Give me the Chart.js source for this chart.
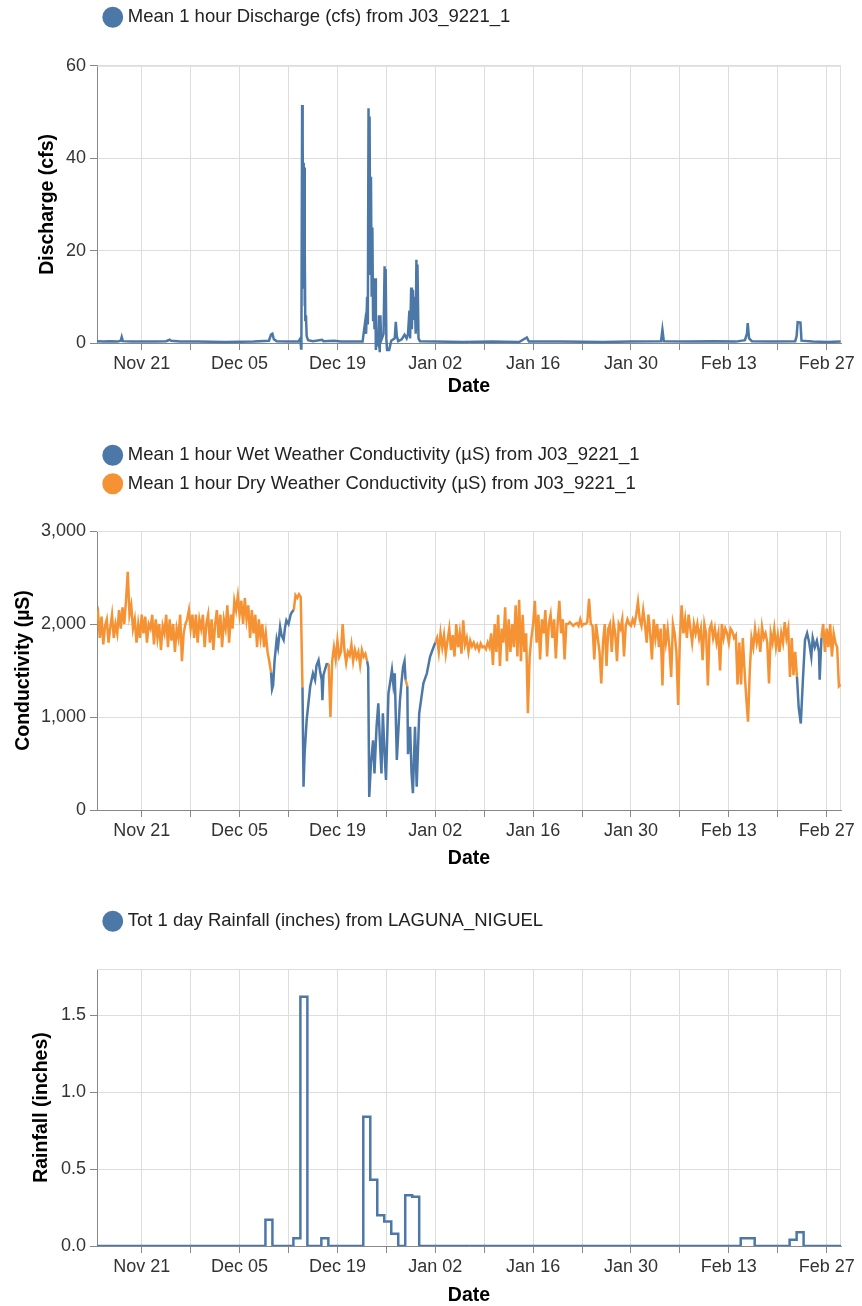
<!DOCTYPE html>
<html>
<head>
<meta charset="utf-8">
<title>J03_9221_1 discharge, conductivity and rainfall</title>
<script src="https://cdn.jsdelivr.net/npm/chart.js@4.4.1/dist/chart.umd.min.js"></script>
<style>
  html, body { margin: 0; padding: 0; background: #fff; overflow: hidden; }
  body { position: relative; width: 862px; height: 1306px; }
  canvas { position: absolute; left: 0; }
  #dischargeChart { top: -2px; }
  #conductivityChart { top: 436px; }
  #rainfallChart { top: 902px; }
</style>
</head>
<body>
<canvas id="dischargeChart" width="862" height="400"></canvas>
<canvas id="conductivityChart" width="862" height="434"></canvas>
<canvas id="rainfallChart" width="862" height="404"></canvas>
<script>
const BLUE = '#4c78a8';
const ORANGE = '#f59233';

// x values are days counted from Nov 21, 00:00
const dayMin = -6.4;
const dayMax = 100.05;
const weekTicks = [0, 7, 14, 21, 28, 35, 42, 49, 56, 63, 70, 77, 84, 91, 98];
const weekLabels = ['Nov 21', '', 'Dec 05', '', 'Dec 19', '', 'Jan 02', '', 'Jan 16', '', 'Jan 30', '', 'Feb 13', '', 'Feb 27'];

// ---- discharge (cfs), hourly means ----
const dischargeDays = [
  -6.4, -5.5, -4.5, -3.5, -3.0, -2.86, -2.7, -1.5, 0, 2, 3.5, 4.0, 4.2, 5.5, 8, 12, 16,
  18.2, 18.5, 18.7, 18.9, 19.3, 21, 22.4, 22.7, 22.8, 22.85,
  22.95, 23.0, 23.05, 23.1, 23.15, 23.2, 23.25, 23.3, 23.35, 23.4, 23.5, 23.6, 23.8,
  24.5, 25.8, 26.0, 27.5, 28.5, 30, 31.6,
  31.95, 32.1, 32.25, 32.35, 32.45, 32.55, 32.6, 32.7, 32.8, 32.9, 33.0, 33.1, 33.2, 33.3, 33.4, 33.5, 33.6,
  33.8, 33.95, 34.05, 34.15, 34.25, 34.6, 34.75, 34.85, 34.9, 35.0, 35.1, 35.4, 35.7,
  36.2, 36.35, 36.5, 36.7, 37.2, 37.6, 37.9, 38.1, 38.3, 38.4, 38.55, 38.65, 38.8, 38.9,
  39.05, 39.2, 39.3, 39.4, 39.45, 39.6, 39.8, 42, 46, 50, 54, 55.1, 55.4, 60, 66, 70,
  74.3, 74.5, 74.7, 78, 82, 85, 86.3, 86.6, 86.7, 86.9, 87.3, 90,
  93.5, 93.7, 93.85, 94.25, 94.4, 96, 98, 100
];
const dischargeCfs = [
  0.4, 0.3, 0.4, 0.3, 0.5, 1.3, 0.4, 0.3, 0.3, 0.3, 0.4, 0.7, 0.5, 0.3, 0.3, 0.2, 0.3,
  0.5, 1.8, 2.0, 0.8, 0.4, 0.3, 0.3, 1.0, -1.2, 3,
  51.5, 20, 45, 12, 39, 25, 38, 8, 20, 5, 6, 1.5, 0.6,
  0.4, 0.7, 0.4, 0.5, 0.3, 0.3, 0.3,
  4.4, 2, 10, 4, 50.8, 20, 49, 15, 36, 10, 25, 5, 14, 3, 14, -1.5, 1,
  0, 6, -2, 6, 0.5, 2, 16.6, 4, 16, 1, -1.5, -1.5, 0.5,
  1, 4.6, 1.5, 0.4, 0.8, 1.8, 1, 2, 7, 1, 12, 3, 11.5, 5,
  10, 2, 18, 3, 17, 1, 0.4, 0.3, 0.2, 0.3, 0.2, 1.2, 0.3, 0.3, 0.2, 0.3,
  0.4, 2.9, 0.4, 0.3, 0.4, 0.3, 0.6, 2.0, 4.3, 1.0, 0.4, 0.3,
  0.4, 1.5, 4.5, 4.4, 0.5, 0.3, 0.2, 0.3
];

// ---- conductivity (µS) ----
// dry-weather readings every 6 hours, one run per dry stretch
const dryStep = 0.25;
const dryStarts = [-6.5, 21.75, 26.5, 37.75, 42.0, 97.25];
const dryUs = [
  [2050, 2120, 1850, 2080, 1780, 1980, 2050, 1800, 1960, 2100, 1850, 2000, 1900, 2150, 1950, 2180,
   2000, 2250, 2560, 2100, 2200, 1950, 2050, 1800, 2000, 1850, 2100, 1900, 2080, 1800, 2000, 1950,
   2100, 1780, 2050, 1850, 2000, 1720, 1980, 1900, 2100, 1750, 2050, 1820, 2000, 1700, 1950, 1850,
   2100, 1600, 1900, 2000, 2050, 2150, 1950, 2100, 1850, 2100, 1800, 2050, 1950, 2100, 1750, 2000,
   2100, 1800, 2050, 1720, 2000, 2150, 1850, 2100, 1750, 2050, 1950, 2200, 1800, 2100, 1950, 2250,
   2150, 2300, 2100, 2250, 2000, 2280, 2050, 2200, 1850, 2150, 1900, 2100, 1750, 2050, 1850, 2000,
   1750, 1900, 1700, 1600, 1480],
  [2150, 2310, 2280, 2320, 2290, 1320],
  [1580, 1560, 1000, 1600, 1750, 1620, 1820, 1650, 1700, 2000, 1720, 1580, 1700, 1660, 1780, 1600,
   1720, 1640, 1700, 1560, 1720, 1650, 1680, 1600],
  [1400, 1330],
  [1800, 1850, 1700, 1900, 1750, 1880, 1680, 1820, 1950, 1720, 1880, 1650, 2000, 1750, 1900, 1680,
   2040, 1780, 1850, 1700, 1820, 1760, 1800, 1740, 1780, 1720, 1790, 1750, 1760, 1730, 1800, 1750,
   1900, 1560, 2000, 1700, 2100, 1550, 1950, 1800, 2180, 1600, 2050, 1700, 2000, 1750, 2200, 1650,
   2260, 1600, 2100, 1700, 1900, 1040, 1650, 1850, 2000, 2250, 1800, 2100, 1620, 2050, 1900, 2150,
   1650, 2000, 2100, 1850, 2050, 1630, 2000, 2250, 1900, 2050, 1620, 2000, 2000, 2020, 2000, 1980,
   2000, 2010, 1980, 2050, 1980, 2000, 2000, 2020, 2270, 2000, 1980, 1620, 2000, 1850, 1700, 1360,
   1800, 2000, 1550, 1950, 2000, 1700, 2020, 1900, 1600, 2000, 1950, 2050, 1650, 1980, 2050, 2000,
   1980, 2050, 2000, 2100, 2240, 2050, 1980, 2150, 2000, 1800, 2100, 1900, 1620, 2050, 1850, 2000,
   1750, 1950, 1340, 2000, 1800, 1950, 1750, 1430, 2000, 1900, 1700, 1130, 1850, 2200, 1900, 2050,
   1850, 2100, 1950, 1800, 2000, 1900, 2000, 1850, 1950, 1610, 2000, 1900, 1340, 1950, 2000, 1850,
   1950, 1800, 1900, 1500, 2000, 1850, 1950, 1900, 1800, 1950, 1920, 1850, 1880, 1350, 1800, 1350,
   1850, 1500, 1200, 950, 1500, 1850, 1750, 1950, 1800, 1900, 1700, 1970, 1850, 1900, 1800, 1360,
   1900, 1800, 1950, 1750, 1880, 1700, 1900, 1800, 2020, 1850, 1950, 1430, 1850, 1450, 1700, 1430],
  [1850, 2000, 1700, 1950, 1750, 2000, 1650, 1900, 1800, 1750, 1330, 1350]
];

// wet-weather readings, one run per storm
const wetDays = [
  [18.5, 18.65, 18.8, 19.0, 19.3, 19.5, 19.8, 20.0, 20.3, 20.5, 20.7, 21.0, 21.3, 21.5, 21.75],
  [23.0, 23.15, 23.3, 23.6, 24.1, 24.5, 24.8, 25.0, 25.3, 25.5, 25.75, 25.85, 26.0, 26.2, 26.5],
  [32.25, 32.4, 32.55, 32.8, 33.1, 33.3, 33.6, 33.85, 34.1, 34.3, 34.5, 34.75, 34.95, 35.3,
   35.6, 35.8, 36.0, 36.2, 36.5, 36.95, 37.2, 37.4, 37.6, 37.75],
  [38.0, 38.1, 38.4, 38.6, 38.8, 39.1, 39.34, 39.7, 40.0, 40.3, 40.8, 41.25, 41.6, 42.0],
  [93.75, 94.0, 94.3, 94.6, 94.9, 95.2, 95.5, 95.8, 96.0, 96.3, 96.6, 96.9, 97.0, 97.25]
];
const wetUs = [
  [1480, 1300, 1340, 1600, 1830, 1750, 1970, 1880, 1830, 1960, 2040, 2000, 2100, 2130, 2150],
  [1320, 250, 600, 968, 1325, 1470, 1400, 1550, 1610, 1500, 1400, 1180, 1450, 1505, 1580],
  [1600, 1540, 140, 500, 750, 394, 900, 1146, 700, 394, 1040, 600, 322, 1254,
   1400, 1505, 1350, 1470, 537, 1183, 1400, 1540, 1600, 1400],
  [1330, 600, 896, 400, 180, 896, 250, 1039, 1200, 1362, 1470, 1648, 1720, 1800],
  [1430, 1100, 930, 1400, 1828, 1900, 1800, 1648, 1850, 1750, 1820, 1700, 1400, 1850]
];

// ---- daily rainfall (inches), LAGUNA_NIGUEL ----
const rainFirstDay = -6.8;
const rainInches = [
  0, 0, 0, 0, 0, 0, 0, 0, 0, 0,
  0, 0, 0, 0, 0, 0, 0, 0, 0, 0,
  0, 0, 0, 0, 0, 0.17, 0, 0, 0, 0.05,
  1.62, 0, 0, 0.05, 0, 0, 0, 0, 0, 0.84,
  0.43, 0.20, 0.16, 0.08, 0, 0.33, 0.32, 0, 0, 0,
  0, 0, 0, 0, 0, 0, 0, 0, 0, 0,
  0, 0, 0, 0, 0, 0, 0, 0, 0, 0,
  0, 0, 0, 0, 0, 0, 0, 0, 0, 0,
  0, 0, 0, 0, 0, 0, 0, 0, 0, 0,
  0, 0, 0, 0.05, 0.05, 0, 0, 0, 0, 0,
  0.04, 0.09, 0, 0, 0, 0, 0, 0
];

Chart.defaults.font.family = "'Liberation Sans', Arial, Helvetica, sans-serif";
Chart.defaults.animation = false;

function toPoints(days, values) {
  return days.map((d, i) => ({ x: d, y: values[i] }));
}

// regular 6-hourly runs; a null after each run breaks the line
function gridRuns(starts, runs, step) {
  const pts = [];
  runs.forEach((run, k) => {
    run.forEach((v, i) => pts.push({ x: starts[k] + i * step, y: v }));
    pts.push({ x: starts[k] + run.length * step, y: null });
  });
  return pts;
}

function pairedRuns(dayRuns, valueRuns) {
  const pts = [];
  dayRuns.forEach((days, k) => {
    days.forEach((d, i) => pts.push({ x: d, y: valueRuns[k][i] }));
    pts.push({ x: days[days.length - 1] + 0.01, y: null });
  });
  return pts;
}

// pushes the plot down from the legend
const legendGap = {
  id: 'legendGap',
  beforeInit(chart, args, opts) {
    const fit = chart.legend.fit;
    chart.legend.fit = function () {
      fit.call(this);
      this.height += opts.gap || 0;
    };
  }
};

// light frame on the top and right of the plot
const plotFrame = {
  id: 'plotFrame',
  beforeDatasetsDraw(chart) {
    const { ctx, chartArea: a } = chart;
    ctx.save();
    ctx.strokeStyle = '#dddddd';
    ctx.lineWidth = 1;
    ctx.beginPath();
    ctx.moveTo(a.left, a.top + 0.5);
    ctx.lineTo(a.right - 0.5, a.top + 0.5);
    ctx.lineTo(a.right - 0.5, a.bottom);
    ctx.stroke();
    ctx.restore();
  }
};

function xAxis(height, titleDrop) {
  return {
    type: 'linear',
    min: dayMin,
    max: dayMax,
    bounds: 'data',
    afterBuildTicks: s => { s.ticks = weekTicks.map(v => ({ value: v })); },
    afterFit: s => { s.height = height; },
    ticks: {
      autoSkip: false,
      maxRotation: 0,
      padding: 3,
      color: '#333',
      font: { size: 18 },
      callback: (v, i) => weekLabels[i]
    },
    grid: { color: '#dddddd', tickColor: '#888', tickLength: 7 },
    border: { color: '#888' },
    title: {
      display: true,
      text: 'Date',
      color: '#000',
      font: { size: 19.5, weight: 'bold' },
      padding: { top: 0, bottom: -titleDrop }
    }
  };
}

function yAxis(title, min, max, tickValues, format, titleInset) {
  return {
    type: 'linear',
    min: min,
    max: max,
    bounds: 'data',
    afterBuildTicks: s => { s.ticks = tickValues.map(v => ({ value: v })); },
    afterFit: s => { s.width = 97; },
    ticks: { color: '#333', font: { size: 18 }, padding: 4, callback: format },
    grid: { color: '#dddddd', tickColor: '#888', tickLength: 7 },
    border: { color: '#888' },
    title: {
      display: true,
      text: title,
      color: '#000',
      font: { size: 19.5, weight: 'bold' },
      padding: { top: titleInset, bottom: 0 }
    }
  };
}

function legendOptions(gap) {
  return {
    legend: {
      display: true,
      position: 'top',
      align: 'start',
      fullSize: false,
      labels: {
        usePointStyle: true,
        pointStyle: 'circle',
        boxWidth: 11.5,
        boxHeight: 13,
        padding: 10,
        color: '#222',
        font: { size: 18.5 }
      }
    },
    legendGap: { gap: gap },
    tooltip: { enabled: false }
  };
}

const layout = { padding: { left: 0, right: 21, top: 0, bottom: 0 } };

new Chart(document.getElementById('dischargeChart'), {
  type: 'line',
  data: {
    datasets: [{
      label: 'Mean 1 hour Discharge (cfs) from J03_9221_1',
      data: toPoints(dischargeDays, dischargeCfs),
      borderColor: BLUE,
      backgroundColor: BLUE,
      borderWidth: 2.5,
      pointRadius: 0,
      tension: 0,
      clip: { left: 0, top: 0, right: 0, bottom: 12 }
    }]
  },
  options: {
    responsive: false,
    layout: layout,
    plugins: legendOptions(29.3),
    scales: {
      x: xAxis(55, 0),
      y: yAxis('Discharge (cfs)', 0, 60, [0, 20, 40, 60], v => String(v), 35.5)
    }
  },
  plugins: [legendGap, plotFrame]
});

new Chart(document.getElementById('conductivityChart'), {
  type: 'line',
  data: {
    datasets: [{
      label: 'Mean 1 hour Wet Weather Conductivity (µS) from J03_9221_1',
      data: pairedRuns(wetDays, wetUs),
      borderColor: BLUE,
      backgroundColor: BLUE,
      borderWidth: 2.5,
      pointRadius: 0,
      tension: 0,
      spanGaps: false
    }, {
      label: 'Mean 1 hour Dry Weather Conductivity (µS) from J03_9221_1',
      data: gridRuns(dryStarts, dryUs, dryStep),
      borderColor: ORANGE,
      backgroundColor: ORANGE,
      borderWidth: 2.5,
      pointRadius: 0,
      tension: 0,
      spanGaps: false
    }]
  },
  options: {
    responsive: false,
    layout: layout,
    plugins: legendOptions(28),
    scales: {
      x: xAxis(60, 0),
      y: yAxis('Conductivity (µS)', 0, 3000, [0, 1000, 2000, 3000], v => v.toLocaleString('en-US'), 11.6)
    }
  },
  plugins: [legendGap, plotFrame]
});

new Chart(document.getElementById('rainfallChart'), {
  type: 'line',
  data: {
    datasets: [{
      label: 'Tot 1 day Rainfall (inches) from LAGUNA_NIGUEL',
      data: rainInches.map((v, i) => ({ x: rainFirstDay + i, y: v })),
      borderColor: BLUE,
      backgroundColor: BLUE,
      borderWidth: 2.5,
      pointRadius: 0,
      stepped: 'middle'
    }]
  },
  options: {
    responsive: false,
    layout: layout,
    plugins: legendOptions(28.5),
    scales: {
      x: xAxis(60, 1.5),
      y: yAxis('Rainfall (inches)', 0, 1.8, [0, 0.5, 1.0, 1.5], v => v.toFixed(1), 30)
    }
  },
  plugins: [legendGap, plotFrame]
});
</script>
</body>
</html>
